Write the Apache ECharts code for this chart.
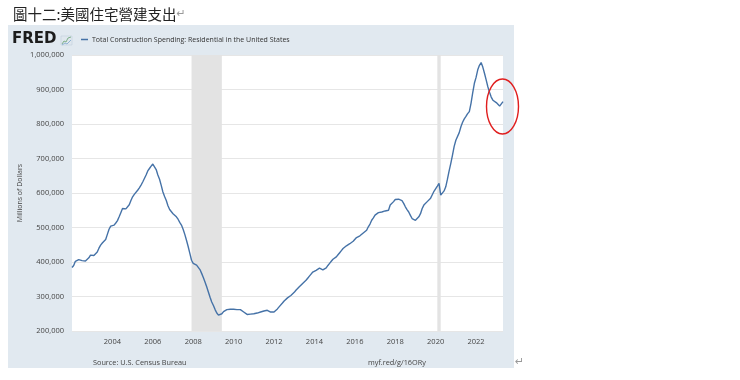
<!DOCTYPE html>
<html><head><meta charset="utf-8">
<script src="https://cdn.jsdelivr.net/npm/echarts@6/dist/echarts.min.js"></script>
<style>html,body{margin:0;padding:0;background:#fff}#c{width:740px;height:380px}</style>
</head><body><div id="c"></div><script>
const titleText = '圖十二:美國住宅營建支出';
const seriesName = 'Total Construction Spending: Residential in the United States';
const yAxisName = 'Millions of Dollars';
const sourceText = 'Source: U.S. Census Bureau';
const linkText = 'myf.red/g/16ORy';
const firstYear = 2002; // monthly data start: January 2002
const spending2002to2009 = [
  384000,390000,402000,398000,407000,410000,404000,400000,403000,405000,412000,420000,
  420000,419000,423000,429000,440000,449000,455000,460000,465000,480000,495000,504000,
  505000,507000,513000,520000,531000,543000,555000,557000,554000,555000,566000,578000,
  589000,596000,601000,608000,615000,623000,632000,642000,652000,664000,671000,678000,
  684000,680000,668000,652000,640000,622000,603000,590000,578000,563000,552000,547000,
  540000,535000,531000,524000,515000,507000,495000,480000,463000,445000,425000,405000,
  396000,393000,391000,386000,378000,367000,355000,342000,328000,313000,298000,284000,
  274000,262000,252000,246000,245000,250000,256000,260000,262000,263000,263000,263000
];
const spending2010to2019 = [
  263000,263000,262000,263000,262000,258000,255000,250000,248000,248000,249000,249000,
  250000,251000,252000,254000,255000,257000,258000,259000,260000,257000,255000,257000,
  255000,258000,264000,270000,275000,281000,287000,292000,296000,299000,303000,308000,
  312000,318000,323000,328000,333000,338000,343000,347000,353000,359000,365000,371000,
  371000,376000,381000,382000,379000,377000,378000,383000,390000,396000,402000,408000,
  410000,415000,421000,427000,433000,439000,444000,447000,450000,453000,455000,460000,
  465000,471000,474000,476000,480000,484000,487000,492000,502000,510000,521000,528000,
  536000,541000,543000,545000,545000,547000,548000,549000,550000,565000,570000,575000,
  581000,580000,582000,582000,578000,570000,560000,552000,545000,535000,526000,522000,
  521000,522000,531000,540000,555000,565000,570000,575000,579000,585000,595000,605000
];
const spending2020to2023 = [
  608000,620000,628000,594000,596000,606000,618000,640000,664000,686000,710000,735000,
  753000,758000,775000,792000,805000,815000,822000,830000,836000,860000,890000,918000,
  935000,957000,970000,978000,965000,947000,928000,908000,892000,878000,869000,866000,
  862000,858000,852000,849000,865000
];
const xTickYears = [2004, 2006, 2008, 2010, 2012, 2014, 2016, 2018, 2020, 2022];
const yMin = 200000, yMax = 1000000, yStep = 100000;
const recessions = [[2007 + 11/12, 2009 + 5/12], [2020 + 1/12, 2020 + 3/12]];

const allValues = spending2002to2009.concat(spending2010to2019, spending2020to2023);
const seriesData = allValues.map((v, i) => [firstYear + i / 12, v]);
const xMax = firstYear + (allValues.length - 1) / 12;

const font = "'Open Sans', 'Liberation Sans', sans-serif";
const chart = echarts.init(document.getElementById('c'), null, {renderer: 'canvas'});
chart.setOption({
  backgroundColor: '#ffffff',
  animation: false,
  title: {
    text: titleText + '{r|↵}',
    left: 8, top: 2,
    textStyle: {
      fontFamily: "'Noto Sans CJK TC', sans-serif", fontSize: 14.5, fontWeight: 'normal', color: '#222',
      rich: { r: { fontSize: 11, color: '#999', fontFamily: "'DejaVu Sans', sans-serif" } }
    }
  },
  graphic: [
    { type: 'rect', z: -10, shape: { x: 8, y: 25, width: 506, height: 343 }, style: { fill: '#e1e9f0' } },
    { type: 'text', left: 12, top: 32, style: { text: 'FRED', font: "bold 15px 'DejaVu Sans', sans-serif", fill: '#1c1c1c' } },
    { type: 'rect', shape: { x: 61, y: 36, width: 11, height: 9 }, style: { fill: '#dfe7ee', stroke: '#b9cbd9', lineWidth: 0.5 } },
    { type: 'polyline', shape: { points: [[62, 44], [64, 41], [66, 42], [68, 38], [71, 37]] }, style: { stroke: '#7fb08a', lineWidth: 1, fill: null } },
    { type: 'polyline', shape: { points: [[62, 45], [65, 43], [67, 44], [71, 40]] }, style: { stroke: '#8fb3d3', lineWidth: 1, fill: null } },
    { type: 'text', left: 93, top: 359, style: { text: sourceText, font: "7.3px " + font, fill: '#444' } },
    { type: 'text', left: 368, top: 359, style: { text: linkText, font: "7.3px " + font, fill: '#444' } },
    { type: 'text', left: 515, top: 357, style: { text: '↵', font: "11px 'DejaVu Sans', sans-serif", fill: '#999' } },
    { type: 'ellipse', z: 100, shape: { cx: 502.5, cy: 106.5, rx: 16, ry: 27.5 }, style: { stroke: '#e01e1e', lineWidth: 1.4, fill: null } }
  ],
  legend: {
    left: 81, top: 36, padding: 0, icon: 'rect', itemWidth: 7, itemHeight: 1.5, itemGap: 4,
    textStyle: { fontFamily: font, fontSize: 7, color: '#333', padding: [0, 0, 0, -1] },
    data: [seriesName]
  },
  grid: { left: 72, right: 237, top: 55, bottom: 49, show: true, backgroundColor: '#ffffff', borderWidth: 0 },
  xAxis: {
    type: 'value', min: firstYear, max: xMax, interval: 2,
    axisLine: { show: false }, axisTick: { show: false }, splitLine: { show: false },
    axisLabel: {
      fontFamily: font, fontSize: 7.5, color: '#444', margin: 7, showMinLabel: false, showMaxLabel: false,
      formatter: v => xTickYears.indexOf(Math.round(v)) >= 0 ? String(Math.round(v)) : ''
    }
  },
  yAxis: {
    type: 'value', min: yMin, max: yMax, interval: yStep,
    name: yAxisName, nameLocation: 'middle', nameGap: 49, nameMoveOverlap: false,
    nameTextStyle: { fontFamily: font, fontSize: 7, color: '#444' },
    axisLine: { show: false }, axisTick: { show: false },
    splitLine: { lineStyle: { color: '#e6e6e6', width: 1 } },
    axisLabel: {
      fontFamily: font, fontSize: 7.5, color: '#444', margin: 8,
      formatter: v => v.toString().replace(/\B(?=(\d{3})+(?!\d))/g, ',')
    }
  },
  series: [{
    name: seriesName, type: 'line', data: seriesData, symbol: 'none', smooth: false,
    lineStyle: { color: '#4572a7', width: 1.4 }, itemStyle: { color: '#4572a7' },
    markArea: {
      silent: true, itemStyle: { color: '#e3e3e3' },
      data: recessions.map(r => [{ xAxis: r[0] }, { xAxis: r[1] }])
    }
  }]
});
</script></body></html>
